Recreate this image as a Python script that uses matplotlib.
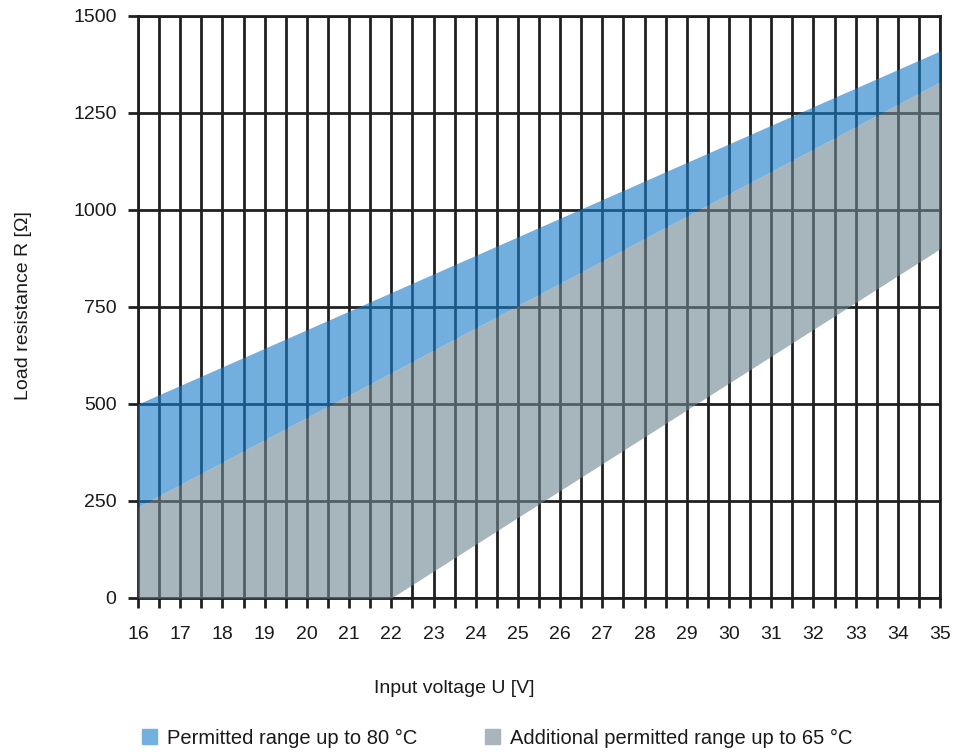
import numpy as np
import matplotlib.pyplot as plt
import matplotlib.patches as mpatches

# ── Data ──────────────────────────────────────────────────────────────────────
U_BAND = [16, 35]
BLUE_TOP = [500, 1410]
GRAY_TOP = [235, 1330]
GRAY_BOTTOM_U = [16, 22, 35]
GRAY_BOTTOM = [0, 0, 900]

X_TICKS = list(range(16, 36))
Y_TICKS = [0, 250, 500, 750, 1000, 1250, 1500]

LABEL_BLUE = 'Permitted range up to 80 \u00b0C'
LABEL_GRAY = 'Additional permitted range up to 65 \u00b0C'

# ── Colors ────────────────────────────────────────────────────────────────────
BLUE = '#187dc9'
GRAY = '#708693'
LINE = '#202020'

plt.rcParams['font.family'] = ['Liberation Sans', 'DejaVu Sans']
plt.rcParams['text.color'] = '#1a1a1a'

fig = plt.figure(figsize=(9.6, 7.54), dpi=100)
ax = fig.add_axes([0.1438, 0.2069, 0.8354, 0.7719])

u = np.linspace(U_BAND[0], U_BAND[1], 200)
blue_top = np.interp(u, U_BAND, BLUE_TOP)
gray_top = np.interp(u, U_BAND, GRAY_TOP)
gray_bot = np.interp(u, GRAY_BOTTOM_U, GRAY_BOTTOM)

# translucent bands so the grid shows through as darker lines
ax.fill_between(u, gray_top, blue_top, color=BLUE, alpha=0.61, linewidth=0, zorder=3)
ax.fill_between(u, gray_bot, gray_top, color=GRAY, alpha=0.61, linewidth=0, zorder=3)

ax.set_xlim(16, 35)
ax.set_ylim(0, 1500)
ax.set_xticks(X_TICKS)
ax.set_xticks(np.arange(16.5, 35, 1), minor=True)
ax.set_yticks(Y_TICKS)
ax.set_axisbelow(True)
ax.grid(True, which='both', axis='x', color=LINE, linewidth=2)
ax.grid(True, which='major', axis='y', color=LINE, linewidth=2)
for s in ax.spines.values():
    s.set_color(LINE)
    s.set_linewidth(2)
ax.tick_params(axis='both', which='both', length=7.5, width=2, color=LINE,
               labelsize=14, labelcolor='#1a1a1a')
ax.tick_params(axis='x', which='both', pad=13)
ax.tick_params(axis='y', pad=8)

fig.text(24 / 960, 0.595, 'Load resistance R [\u03a9]', rotation=90,
         ha='center', va='center', fontsize=14)
fig.text(0.473, 0.0875, 'Input voltage U [V]', ha='center', va='center', fontsize=14)

handles = [mpatches.Patch(color='#72b0de', label=LABEL_BLUE),
           mpatches.Patch(color='#a8b5bd', label=LABEL_GRAY)]
fig.legend(handles=handles, loc='center left', bbox_to_anchor=(142 / 960, 0.021),
           ncol=2, frameon=False, fontsize=14.5, handlelength=0.75, handleheight=0.8,
           handletextpad=0.5, columnspacing=3.35, borderpad=0, borderaxespad=0)

fig.savefig('out.png', dpi=100)
